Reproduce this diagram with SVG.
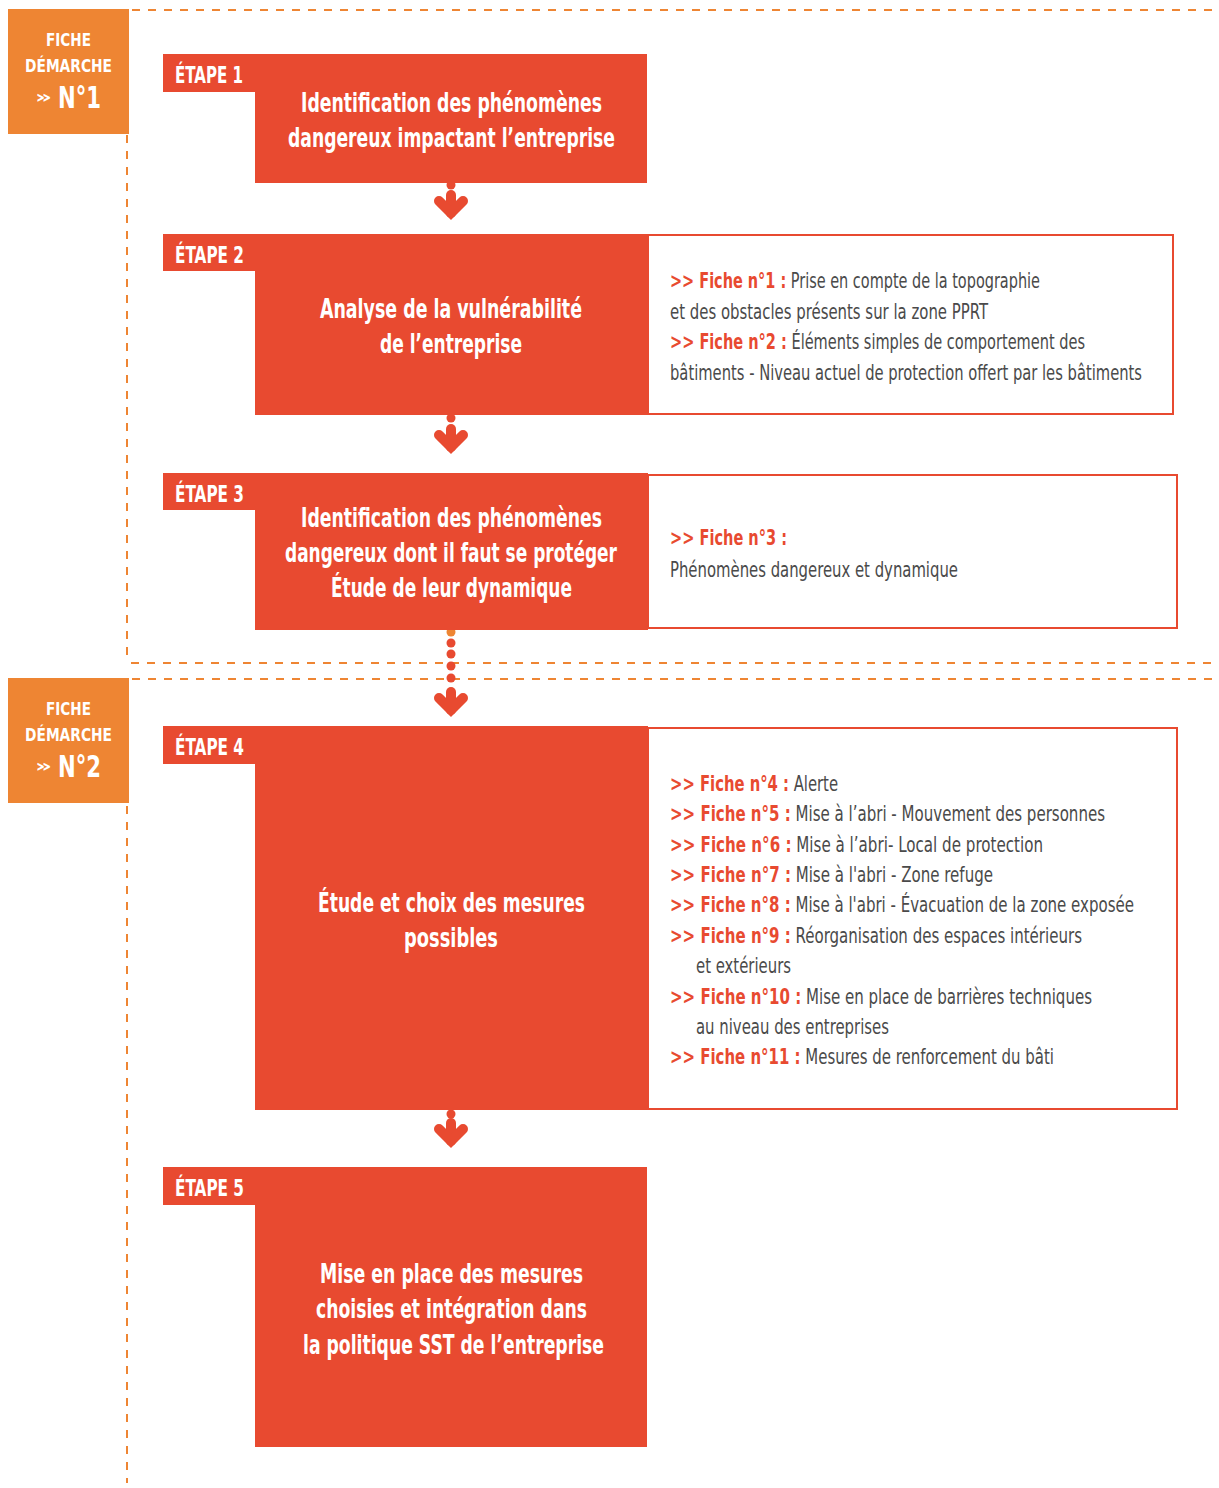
<svg xmlns="http://www.w3.org/2000/svg" xmlns:xlink="http://www.w3.org/1999/xlink" width="1219" height="1488" viewBox="0 0 1219 1488">
<style>
.bg{fill:#ffffff}
.fiche{fill:#EE8533}
.red{fill:#E84A30}
.info{fill:#ffffff;stroke:#E84A30;stroke-width:2}
.dash{fill:none;stroke:#EE8533;stroke-width:2;stroke-dasharray:8 8}
.wt{fill:#ffffff;font-family:"DejaVu Sans Condensed","Roboto Condensed","Liberation Sans Narrow","Liberation Sans",sans-serif;font-weight:bold}
.hd{font-size:27px;text-anchor:start}
.tab{font-size:23px}
.pre{fill:#E84A30;font-weight:bold}
.body{fill:#4A4A4A;font-family:"DejaVu Sans Condensed","Roboto Condensed","Liberation Sans Narrow","Liberation Sans",sans-serif;font-size:22px}
.dot{fill:#E84A30}
</style>
<defs>
<g id="arrow" fill="none" stroke="#E84A30" stroke-width="10">
<line x1="0" y1="-25" x2="0" y2="-7" stroke-linecap="round"/>
<polyline points="-12,-19 0,-7 12,-19" stroke-linecap="round" stroke-linejoin="miter"/>
</g>
</defs>
<rect class="bg" x="0" y="0" width="1219" height="1488"/>

<g id="frame">
<line class="dash" x1="132" y1="10" x2="1213" y2="10"/>
<line class="dash" x1="127" y1="135" x2="127" y2="663"/>
<line class="dash" x1="131" y1="663" x2="1213" y2="663"/>
<line class="dash" x1="132" y1="679" x2="1213" y2="679"/>
<line class="dash" x1="127" y1="806" x2="127" y2="1483"/>
</g>

<g id="fiche1">
<rect class="fiche" x="8" y="9" width="121" height="125"/>
<text class="wt" x="46" y="46" font-size="18" textLength="45" lengthAdjust="spacingAndGlyphs">FICHE</text>
<text class="wt" x="25" y="72" font-size="18" textLength="87" lengthAdjust="spacingAndGlyphs">DÉMARCHE</text>
<text class="wt" x="35" y="103" font-size="18" textLength="17" lengthAdjust="spacingAndGlyphs">»</text>
<text class="wt" x="58" y="108" font-size="31" textLength="43" lengthAdjust="spacingAndGlyphs">N°1</text>
</g>

<g id="fiche2">
<rect class="fiche" x="8" y="678" width="121" height="125"/>
<text class="wt" x="46" y="715" font-size="18" textLength="45" lengthAdjust="spacingAndGlyphs">FICHE</text>
<text class="wt" x="25" y="741" font-size="18" textLength="87" lengthAdjust="spacingAndGlyphs">DÉMARCHE</text>
<text class="wt" x="35" y="772" font-size="18" textLength="17" lengthAdjust="spacingAndGlyphs">»</text>
<text class="wt" x="58" y="777" font-size="31" textLength="43" lengthAdjust="spacingAndGlyphs">N°2</text>
</g>

<g id="connectors">
<circle class="dot" cx="451" cy="185" r="4.5"/>
<use xlink:href="#arrow" href="#arrow" x="451" y="220"/>
<circle class="dot" cx="451" cy="418" r="4.5"/>
<use xlink:href="#arrow" href="#arrow" x="451" y="454"/>
<circle class="dot" cx="451" cy="632" r="4.5" fill="#EE8533" style="fill:#EE8533"/>
<circle class="dot" cx="451" cy="643" r="4.5"/>
<circle class="dot" cx="451" cy="654" r="4.5"/>
<circle class="dot" cx="451" cy="666" r="4.5"/>
<circle class="dot" cx="451" cy="678" r="4.5"/>
<use xlink:href="#arrow" href="#arrow" x="451" y="717"/>
<circle class="dot" cx="451" cy="1114" r="4.5"/>
<use xlink:href="#arrow" href="#arrow" x="451" y="1148"/>
</g>

<g id="etape1">
<rect class="red" x="163" y="54" width="92" height="38"/>
<rect class="red" x="255" y="54" width="392" height="129"/>
<text class="wt tab" x="175" y="83" textLength="68" lengthAdjust="spacingAndGlyphs">ÉTAPE 1</text>
<text class="wt hd" x="301" y="112" textLength="301" lengthAdjust="spacingAndGlyphs">Identification des phénomènes</text>
<text class="wt hd" x="288" y="147" textLength="327" lengthAdjust="spacingAndGlyphs">dangereux impactant l’entreprise</text>
</g>

<g id="etape2">
<rect class="red" x="163" y="234" width="92" height="37"/>
<rect class="red" x="255" y="234" width="393" height="181"/>
<text class="wt tab" x="175" y="263" textLength="69" lengthAdjust="spacingAndGlyphs">ÉTAPE 2</text>
<text class="wt hd" x="320" y="318" textLength="262" lengthAdjust="spacingAndGlyphs">Analyse de la vulnérabilité</text>
<text class="wt hd" x="380" y="353" textLength="142" lengthAdjust="spacingAndGlyphs">de l’entreprise</text>
</g>
<g id="info2">
<rect class="info" x="648" y="235" width="525" height="179"/>
<text class="body" x="670" y="288" textLength="370" lengthAdjust="spacingAndGlyphs"><tspan class="pre">&gt;&gt; Fiche n°1 :</tspan> Prise en compte de la topographie</text>
<text class="body" x="670" y="319" textLength="318" lengthAdjust="spacingAndGlyphs">et des obstacles présents sur la zone PPRT</text>
<text class="body" x="670" y="349" textLength="415" lengthAdjust="spacingAndGlyphs"><tspan class="pre">&gt;&gt; Fiche n°2 :</tspan> Éléments simples de comportement des</text>
<text class="body" x="670" y="380" textLength="472" lengthAdjust="spacingAndGlyphs">bâtiments - Niveau actuel de protection offert par les bâtiments</text>
</g>

<g id="etape3">
<rect class="red" x="163" y="473" width="92" height="37"/>
<rect class="red" x="255" y="473" width="393" height="157"/>
<text class="wt tab" x="175" y="502" textLength="69" lengthAdjust="spacingAndGlyphs">ÉTAPE 3</text>
<text class="wt hd" x="301" y="527" textLength="301" lengthAdjust="spacingAndGlyphs">Identification des phénomènes</text>
<text class="wt hd" x="285" y="562" textLength="332" lengthAdjust="spacingAndGlyphs">dangereux dont il faut se protéger</text>
<text class="wt hd" x="331" y="597" textLength="241" lengthAdjust="spacingAndGlyphs">Étude de leur dynamique</text>
</g>
<g id="info3">
<rect class="info" x="648" y="475" width="529" height="153"/>
<text class="body" x="670" y="545" textLength="117" lengthAdjust="spacingAndGlyphs"><tspan class="pre">&gt;&gt; Fiche n°3 :</tspan></text>
<text class="body" x="670" y="577" textLength="288" lengthAdjust="spacingAndGlyphs">Phénomènes dangereux et dynamique</text>
</g>

<g id="etape4">
<rect class="red" x="163" y="726" width="92" height="38"/>
<rect class="red" x="255" y="726" width="393" height="384"/>
<text class="wt tab" x="175" y="755" textLength="69" lengthAdjust="spacingAndGlyphs">ÉTAPE 4</text>
<text class="wt hd" x="318" y="912" textLength="267" lengthAdjust="spacingAndGlyphs">Étude et choix des mesures</text>
<text class="wt hd" x="404" y="947" textLength="94" lengthAdjust="spacingAndGlyphs">possibles</text>
</g>
<g id="info4">
<rect class="info" x="648" y="728" width="529" height="381"/>
<text class="body" x="670" y="791" textLength="168" lengthAdjust="spacingAndGlyphs"><tspan class="pre">&gt;&gt; Fiche n°4 :</tspan> Alerte</text>
<text class="body" x="670" y="821" textLength="435" lengthAdjust="spacingAndGlyphs"><tspan class="pre">&gt;&gt; Fiche n°5 :</tspan> Mise à l’abri - Mouvement des personnes</text>
<text class="body" x="670" y="852" textLength="373" lengthAdjust="spacingAndGlyphs"><tspan class="pre">&gt;&gt; Fiche n°6 :</tspan> Mise à l’abri- Local de protection</text>
<text class="body" x="670" y="882" textLength="323" lengthAdjust="spacingAndGlyphs"><tspan class="pre">&gt;&gt; Fiche n°7 :</tspan> Mise à l'abri - Zone refuge</text>
<text class="body" x="670" y="912" textLength="464" lengthAdjust="spacingAndGlyphs"><tspan class="pre">&gt;&gt; Fiche n°8 :</tspan> Mise à l'abri - Évacuation de la zone exposée</text>
<text class="body" x="670" y="943" textLength="412" lengthAdjust="spacingAndGlyphs"><tspan class="pre">&gt;&gt; Fiche n°9 :</tspan> Réorganisation des espaces intérieurs</text>
<text class="body" x="696" y="973" textLength="95" lengthAdjust="spacingAndGlyphs">et extérieurs</text>
<text class="body" x="670" y="1004" textLength="422" lengthAdjust="spacingAndGlyphs"><tspan class="pre">&gt;&gt; Fiche n°10 :</tspan> Mise en place de barrières techniques</text>
<text class="body" x="696" y="1034" textLength="193" lengthAdjust="spacingAndGlyphs">au niveau des entreprises</text>
<text class="body" x="670" y="1064" textLength="384" lengthAdjust="spacingAndGlyphs"><tspan class="pre">&gt;&gt; Fiche n°11 :</tspan> Mesures de renforcement du bâti</text>
</g>

<g id="etape5">
<rect class="red" x="163" y="1167" width="92" height="38"/>
<rect class="red" x="255" y="1167" width="392" height="280"/>
<text class="wt tab" x="175" y="1196" textLength="69" lengthAdjust="spacingAndGlyphs">ÉTAPE 5</text>
<text class="wt hd" x="320" y="1283" textLength="263" lengthAdjust="spacingAndGlyphs">Mise en place des mesures</text>
<text class="wt hd" x="316" y="1318" textLength="271" lengthAdjust="spacingAndGlyphs">choisies et intégration dans</text>
<text class="wt hd" x="303" y="1354" textLength="301" lengthAdjust="spacingAndGlyphs">la politique SST de l’entreprise</text>
</g>
</svg>
